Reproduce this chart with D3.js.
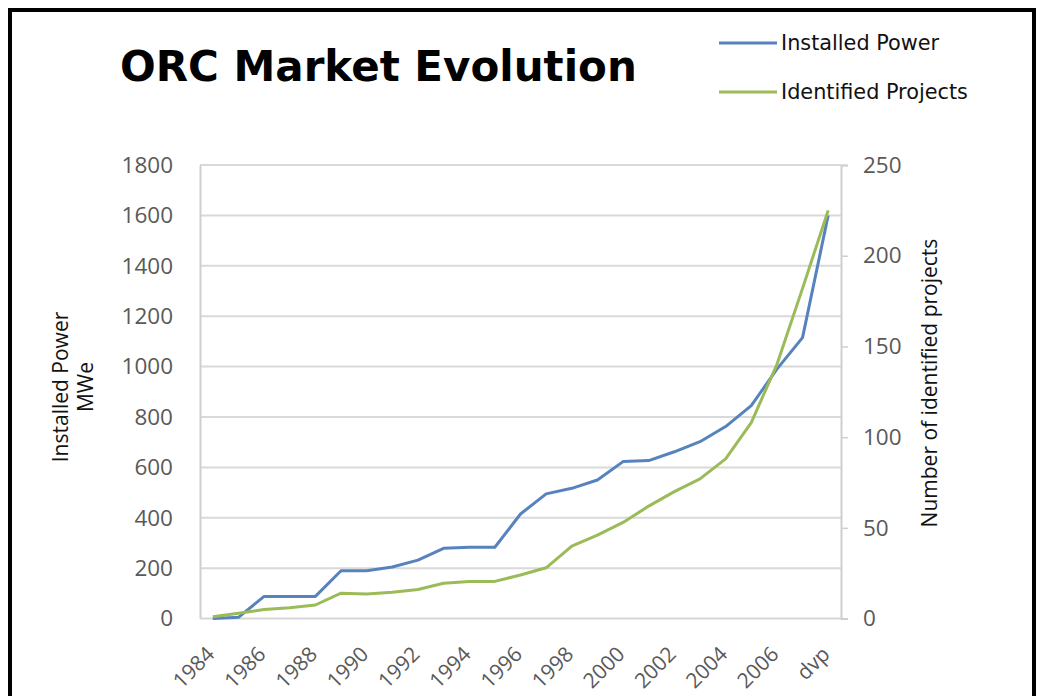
<!DOCTYPE html>
<html><head><meta charset="utf-8">
<script src="https://cdn.jsdelivr.net/npm/d3@7"></script>
<style>
html,body{margin:0;padding:0;background:#fff;}
svg{display:block;}
</style></head>
<body>
<svg id="chart" width="1042" height="696"></svg>
<script>
const categories = ["1984","1985","1986","1987","1988","1989","1990","1991","1992","1993","1994","1995","1996","1997","1998","1999","2000","2001","2002","2003","2004","2005","2006","2007","dvp"];
const installedPower = [0,5,88,88,88,190,190,205,232,279,283,283,415,495,517,550,623,627,662,702,762,845,990,1115,1600];
const identifiedProjects = [1,3,5,6,7.5,14,13.5,14.5,16,19.5,20.5,20.5,24,28,40,46,53,62,70,77,88,108,140,182,225];
const leftTicks = [0,200,400,600,800,1000,1200,1400,1600,1800];
const rightTicks = [0,50,100,150,200,250];
const xTickLabels = ["1984","1986","1988","1990","1992","1994","1996","1998","2000","2002","2004","2006","dvp"];

const svg = d3.select("#chart");
const L = 200, R = 841, T = 165, B = 618.6;
const x = d3.scalePoint().domain(categories).range([L, R]).padding(0.5);
const yL = d3.scaleLinear().domain([0,1800]).range([B, T]);
const yR = d3.scaleLinear().domain([0,250]).range([B, T]);
const FONT = "Open Sans, sans-serif";

// frame
svg.append("path").attr("d","M10,700 V10 H1034 V700").attr("fill","none").attr("stroke","#000").attr("stroke-width",4);

// gridlines
svg.append("g").selectAll("line").data(leftTicks.filter(d=>d>0)).join("line")
  .attr("x1",L).attr("x2",R).attr("y1",d=>yL(d)).attr("y2",d=>yL(d))
  .attr("stroke","#d9d9d9").attr("stroke-width",2);

// left axis
const gl = svg.append("g").attr("transform",`translate(${L},0)`)
  .call(d3.axisLeft(yL).tickValues(leftTicks).tickSize(0).tickPadding(27).tickFormat(d3.format("d")));
gl.select(".domain").attr("stroke","#cfcfcf").attr("stroke-width",2);
gl.selectAll("text").attr("font-family",FONT).attr("font-size",22.5).attr("fill","#595959");

// right axis
const gr = svg.append("g").attr("transform",`translate(${R},0)`)
  .call(d3.axisRight(yR).tickValues(rightTicks).tickSize(7).tickPadding(15).tickFormat(d3.format("d")));
gr.select(".domain").attr("stroke","#cfcfcf").attr("stroke-width",2);
gr.selectAll("line").attr("stroke","#cfcfcf").attr("stroke-width",1.5);
gr.selectAll("text").attr("font-family",FONT).attr("font-size",22.5).attr("fill","#595959");

// bottom axis
svg.append("line").attr("x1",L).attr("x2",R).attr("y1",B).attr("y2",B).attr("stroke","#d6d6d6").attr("stroke-width",2);
svg.append("g").selectAll("text").data(xTickLabels).join("text")
  .attr("transform",d=>`translate(${x(d)+3},${B+37}) rotate(-45)`)
  .attr("text-anchor","end")
  .attr("font-family",FONT).attr("font-size",21).attr("fill","#595959")
  .text(d=>d);

// lines
const lineL = d3.line().x((d,i)=>x(categories[i])).y(d=>yL(d));
const lineR = d3.line().x((d,i)=>x(categories[i])).y(d=>yR(d));
svg.append("path").datum(installedPower).attr("d",lineL).attr("fill","none")
  .attr("stroke","#5683bd").attr("stroke-width",3).attr("stroke-linejoin","round");
svg.append("path").datum(identifiedProjects).attr("d",lineR).attr("fill","none")
  .attr("stroke","#9bbb59").attr("stroke-width",3).attr("stroke-linejoin","round");

// axis titles
const lt = svg.append("text").attr("transform","translate(68,387) rotate(-90)")
  .attr("text-anchor","middle").attr("font-family",FONT).attr("font-size",21).attr("fill","#111");
lt.append("tspan").attr("x",0).attr("dy","0em").text("Installed Power");
lt.append("tspan").attr("x",0).attr("dy","1.2em").text("MWe");
svg.append("text").attr("transform","translate(937,383) rotate(-90)")
  .attr("text-anchor","middle").attr("font-family",FONT).attr("font-size",21).attr("fill","#111")
  .text("Number of identified projects");

// title
svg.append("text").attr("x",120).attr("y",81).attr("font-family","DejaVu Sans, sans-serif")
  .attr("font-weight","bold").attr("font-size",42).attr("fill","#000").text("ORC Market Evolution");

// legend
const legend = [{name:"Installed Power",color:"#5683bd",y:43},{name:"Identified Projects",color:"#9bbb59",y:92}];
const lg = svg.append("g").selectAll("g").data(legend).join("g");
lg.append("line").attr("x1",719).attr("x2",777).attr("y1",d=>d.y).attr("y2",d=>d.y)
  .attr("stroke",d=>d.color).attr("stroke-width",3);
lg.append("text").attr("x",781).attr("y",d=>d.y).attr("dy","0.35em")
  .attr("font-family","DejaVu Sans, sans-serif").attr("font-size",20.8).attr("fill","#111")
  .text(d=>d.name);
</script>
</body></html>
